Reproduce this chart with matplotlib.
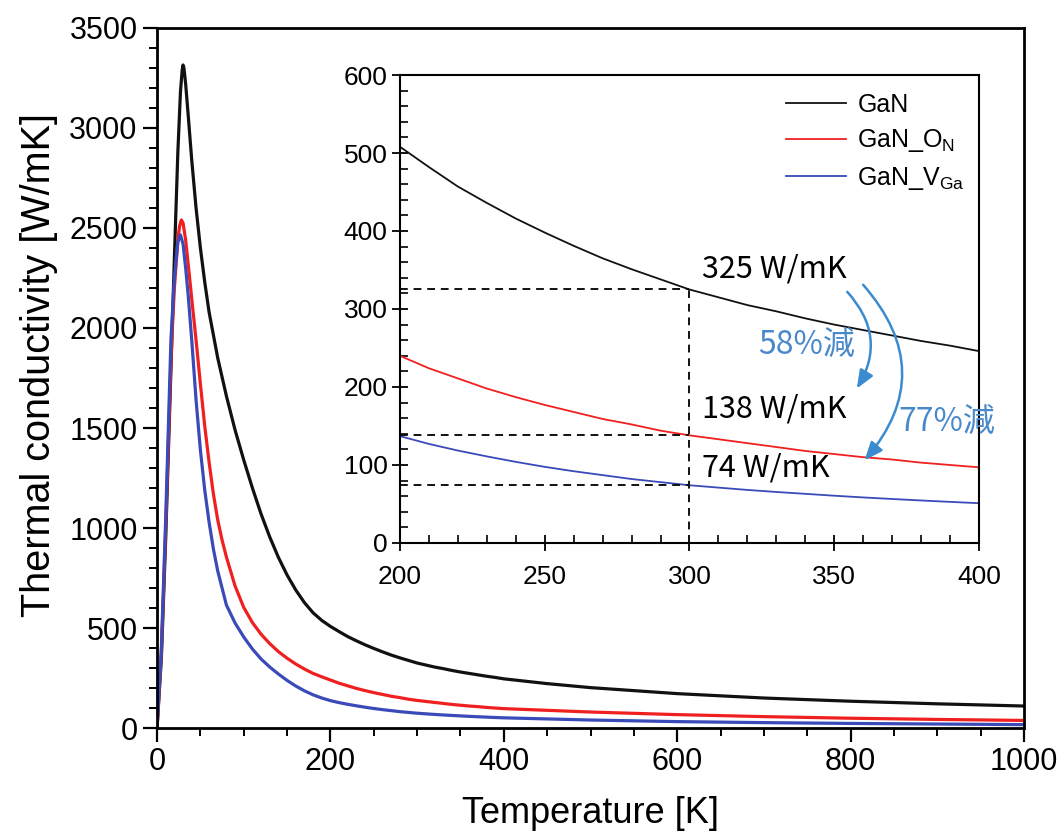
import matplotlib
matplotlib.use("Agg")
import matplotlib.pyplot as plt
from matplotlib.ticker import MultipleLocator
from matplotlib import font_manager

_names = {f.name for f in font_manager.fontManager.ttflist}
HAS_NARROW = 'Liberation Sans Narrow' in _names

plt.rcParams['font.family'] = ['Liberation Sans', 'DejaVu Sans']

# ---- data ----
temp_gan = [0, 5, 10, 15, 20, 24, 27, 29, 30, 31, 33, 36, 40, 45, 50, 55, 60, 70, 80, 90,
            100, 110, 120, 130, 140, 150, 160, 170, 180, 190,
            200, 210, 220, 230, 240, 250, 260, 270, 280, 290, 300, 310, 320, 330, 340,
            350, 360, 370, 380, 390, 400, 450, 500, 600, 700, 800, 900, 1000]
k_gan = [0, 350, 950, 1650, 2350, 2880, 3180, 3290, 3315, 3300, 3220, 3060, 2840, 2600,
         2400, 2230, 2080, 1850, 1660, 1490,
         1340, 1200, 1070, 955, 853, 765, 690, 627, 576, 538,
         508, 482, 457, 436, 416, 398, 381, 365, 351, 338, 325, 315, 305, 297, 288,
         280, 273, 266, 259, 253, 246, 222, 202, 172, 150, 134, 121, 110]

temp_on = [0, 5, 10, 15, 17, 20, 24, 26, 28, 30, 33, 37, 41, 45, 50, 55, 60, 65, 70, 75,
           80, 90, 100, 110, 120, 130, 140, 150, 160, 170, 180, 190,
           200, 210, 220, 230, 240, 250, 260, 270, 280, 290, 300, 310, 320, 330, 340,
           350, 360, 370, 380, 390, 400, 500, 600, 700, 800, 900, 1000]
k_on = [0, 380, 1000, 1700, 1940, 2200, 2440, 2510, 2540, 2525, 2440, 2275, 2105, 1940,
        1720, 1510, 1330, 1170, 1040, 940,
        855, 710, 603, 527, 469, 422, 382, 349, 320, 295, 273, 256,
        240, 224, 211, 198, 187, 177, 168, 159, 152, 144, 138, 133, 128, 123, 118,
        114, 110, 107, 103, 100, 97, 80, 67, 57, 49, 43, 38]

temp_vga = [0, 5, 10, 16, 20, 24, 27, 30, 33, 36, 40, 45, 50, 55, 60, 65, 70, 80, 90,
            100, 110, 120, 130, 140, 150, 160, 170, 180, 190,
            200, 210, 220, 230, 240, 250, 260, 270, 280, 290, 300, 310, 320, 330, 340,
            350, 360, 370, 380, 390, 400, 500, 600, 700, 800, 900, 1000]
k_vga = [0, 400, 1050, 1940, 2250, 2430, 2465, 2420, 2300, 2160, 1940, 1640, 1390, 1190,
         1030, 895, 785, 615, 525,
         455, 395, 345, 305, 270, 238, 210, 186, 166, 150,
         137, 127, 118.5, 111, 104, 97.6, 92, 87, 82, 78, 74, 71, 68, 65.4, 63,
         60.6, 58.4, 56.4, 54.5, 52.7, 51, 40, 32, 27, 23, 20, 17]

series_names = ['GaN', 'GaN_O$_\\mathregular{N}$', 'GaN_V$_\\mathregular{Ga}$']
series_colors = ['#111111', '#f02020', '#3a4ab8']

ref_temp = 300
ref_vals = [325, 138, 74]
ref_labels = ['325 W/mK', '138 W/mK', '74 W/mK']
reduction_labels = ['58%減', '77%減']

inset_xticks = [200, 250, 300, 350, 400]
inset_yticks = [0, 100, 200, 300, 400, 500, 600]
main_xticks = [0, 200, 400, 600, 800, 1000]
main_yticks = [0, 500, 1000, 1500, 2000, 2500, 3000, 3500]

fig = plt.figure(figsize=(10.64, 8.40), dpi=100)
ax = fig.add_axes([0.1476, 0.1333, 0.8148, 0.8334])

series = [(temp_gan, k_gan), (temp_on, k_on), (temp_vga, k_vga)]
for (t, k), c in zip(series, series_colors):
    ax.plot(t, k, color=c, lw=2.3, solid_joinstyle='round')

ax.set_xlim(0, 1000)
ax.set_ylim(0, 3500)
ax.set_xticks(main_xticks)
ax.set_yticks(main_yticks)
ax.xaxis.set_minor_locator(MultipleLocator(50))
ax.yaxis.set_minor_locator(MultipleLocator(100))
ax.tick_params(which='major', direction='out', length=10, width=1.6, labelsize=22, pad=4)
ax.tick_params(which='minor', direction='out', length=6, width=1.4)
for s in ax.spines.values():
    s.set_linewidth(2.0)

if HAS_NARROW:
    narrow = ['Liberation Sans Narrow', 'Liberation Sans']
    for lab in ax.get_xticklabels():
        lab.set_family(narrow)
        lab.set_fontsize(25)
    ax.set_xlabel('Temperature [K]', fontsize=30, family=narrow, labelpad=14)
else:
    ax.set_xlabel('Temperature [K]', fontsize=26, labelpad=13)
ax.set_ylabel('Thermal conductivity [W/mK]', fontsize=28.5)
ax.yaxis.set_label_coords(-0.114, 0.519)

# ---- inset ----
axi = fig.add_axes([0.3759, 0.3536, 0.5442, 0.5571])
lines = []
for (t, k), c, n in zip(series, series_colors, series_names):
    ln, = axi.plot(t, k, color=c, lw=1.3, label=n)
    lines.append(ln)
axi.set_xlim(200, 400)
axi.set_ylim(0, 600)
axi.set_xticks(inset_xticks)
axi.set_yticks(inset_yticks)
axi.xaxis.set_minor_locator(MultipleLocator(10))
axi.yaxis.set_minor_locator(MultipleLocator(20))
axi.tick_params(which='major', direction='inout', length=12, width=1.3, labelsize=19, pad=3)
axi.tick_params(axis='x', which='major', pad=10)
axi.tick_params(which='minor', direction='in', length=6, width=1.2)
for s in axi.spines.values():
    s.set_linewidth(1.5)

# reference dashed lines at 300 K
axi.plot([ref_temp, ref_temp], [0, ref_vals[0]], ls=(0, (4, 3)), color='#111111', lw=1.4)
for v in ref_vals:
    axi.plot([200, ref_temp], [v, v], ls=(0, (4, 3)), color='#111111', lw=1.4)

axi.legend(handles=lines, loc='upper left', bbox_to_anchor=(0.667, 0.962), frameon=False,
           fontsize=18, handlelength=2.4, handletextpad=0.45, labelspacing=0.42,
           borderpad=0, borderaxespad=0)

ann_font = ['Noto Sans CJK JP', 'DejaVu Sans']
axi.text(304.3, 351, ref_labels[0], fontsize=22, family=ann_font, va='center', ha='left')
axi.text(304.3, 172, ref_labels[1], fontsize=22, family=ann_font, va='center', ha='left')
axi.text(304.3, 96, ref_labels[2], fontsize=22, family=ann_font, va='center', ha='left')

blue = '#3b8bd0'
axi.text(323.7, 252, reduction_labels[0], fontsize=23, family=ann_font, color='#4a88cc',
         va='center', ha='left')
axi.text(372.0, 154, reduction_labels[1], fontsize=23, family=ann_font, color='#4a88cc',
         va='center', ha='left', clip_on=False)

axi.annotate('', xy=(357.8, 198), xytext=(354.5, 322),
             arrowprops=dict(arrowstyle='-|>,head_length=1.1,head_width=0.45', color=blue, lw=1.8,
                             connectionstyle='arc3,rad=-0.37', shrinkA=0, shrinkB=0))
axi.annotate('', xy=(360.5, 106), xytext=(360.0, 331),
             arrowprops=dict(arrowstyle='-|>,head_length=1.1,head_width=0.45', color=blue, lw=1.8,
                             connectionstyle='arc3,rad=-0.43', shrinkA=0, shrinkB=0))

fig.savefig('out.png', dpi=100, facecolor='white')
